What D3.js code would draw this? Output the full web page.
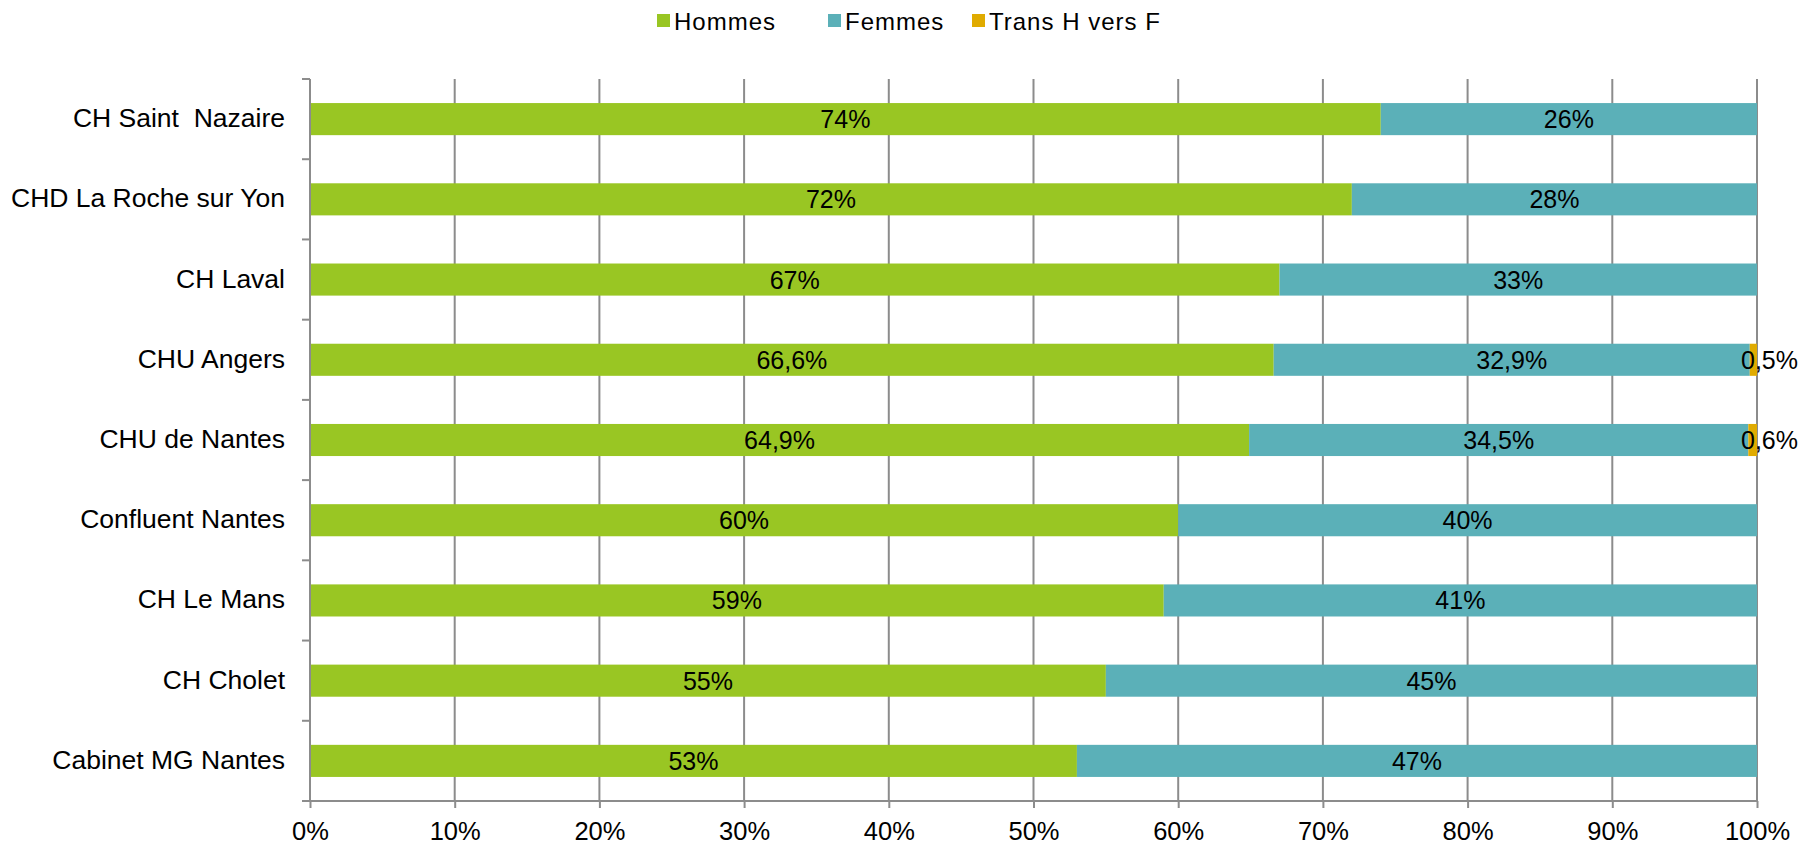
<!DOCTYPE html>
<html>
<head>
<meta charset="utf-8">
<style>
  body { margin: 0; background: #fff; }
  svg text { font-family: "Liberation Sans", Arial, sans-serif; fill: #000; }
</style>
<title>Répartition par sexe</title>
</head>
<body>
<script src="https://cdn.jsdelivr.net/npm/d3@7"></script>
<script>

// data ////////////////////////////////////////////////////////////////
var categories = ['CH Saint  Nazaire', 'CHD La Roche sur Yon', 'CH Laval', 'CHU Angers',
  'CHU de Nantes', 'Confluent Nantes', 'CH Le Mans', 'CH Cholet', 'Cabinet MG Nantes'];
var hommes = [74, 72, 67, 66.6, 64.9, 60, 59, 55, 53];
var femmes = [26, 28, 33, 32.9, 34.5, 40, 41, 45, 47];
var trans  = [0, 0, 0, 0.5, 0.6, 0, 0, 0, 0];
var seriesNames = ['Hommes', 'Femmes', 'Trans H vers F'];
var xTicks = [0, 10, 20, 30, 40, 50, 60, 70, 80, 90, 100];

var colors = ['#99c623', '#5bb0b8', '#e0ab00'];

var width = 1804, height = 845;
var margin = {top: 79, right: 47, bottom: 44, left: 310};

var svg = d3.select('body').append('svg')
  .attr('width', width)
  .attr('height', height);

var rows = categories.map((c, i) => ({cat: c, Hommes: hommes[i], Femmes: femmes[i], 'Trans H vers F': trans[i]}));
var stacked = d3.stack().keys(seriesNames)(rows);

var x = d3.scaleLinear()
  .domain([0, 100])
  .range([margin.left, width - margin.right]);

var y = d3.scaleBand()
  .domain(categories)
  .range([margin.top, height - margin.bottom])
  .padding(0);

var [x0, x1] = x.range();
var [y0, y1] = y.range();
var barH = y.step() * 0.4;
var axisColor = '#8c8c8c';

// grid
svg.append('g')
  .selectAll('line')
  .data(xTicks)
  .join('line')
    .attr('x1', d => x(d)).attr('x2', d => x(d))
    .attr('y1', y0).attr('y2', y1)
    .attr('stroke', axisColor)
    .attr('stroke-width', 2);

// bars
var layers = svg.append('g')
  .selectAll('g')
  .data(stacked)
  .join('g')
    .attr('fill', (d, i) => colors[i]);

layers.selectAll('rect')
  .data(d => d.filter(v => v[1] - v[0] > 0))
  .join('rect')
    .attr('x', d => x(d[0]))
    .attr('width', d => x(d[1]) - x(d[0]))
    .attr('y', d => y(d.data.cat) + (y.step() - barH) / 2)
    .attr('height', barH);

// value labels
var fmt = v => (Number.isInteger(v) ? String(v) : d3.format('.1f')(v).replace('.', ',')) + '%';

layers.selectAll('text')
  .data(d => d.filter(v => v[1] - v[0] > 0).map(v => ({v: v, key: d.key})))
  .join('text')
    .attr('x', d => (x(d.v[0]) + x(d.v[1])) / 2)
    .attr('y', d => y(d.v.data.cat) + y.step() / 2)
    .attr('dy', '0.36em')
    .attr('text-anchor', 'middle')
    .attr('font-size', 25)
    .style('fill', '#000')
    .text(d => fmt(d.v[1] - d.v[0]))
    .each(function(d) {
      // tiny segments: label pushed to the right edge
      var b = this.getBBox();
      if (b.width > x(d.v[1]) - x(d.v[0])) {
        d3.select(this).attr('x', width - 6).attr('text-anchor', 'end');
      }
    });

// bottom axis
var xAxis = svg.append('g')
  .attr('transform', `translate(0,${y1})`)
  .call(d3.axisBottom(x).tickValues(xTicks).tickSize(7).tickPadding(14).tickFormat(d => d + '%'));
xAxis.select('.domain').remove();
xAxis.append('line')
  .attr('x1', x0 - 8).attr('x2', x1)
  .attr('stroke', axisColor).attr('stroke-width', 2);
xAxis.selectAll('.tick line').attr('stroke', axisColor).attr('stroke-width', 2);
xAxis.selectAll('.tick text')
  .attr('font-size', 25.5)
  .attr('font-family', '"Liberation Sans", Arial, sans-serif')
  .style('fill', '#000');

// left axis
var yAxis = svg.append('g');
yAxis.append('line')
  .attr('x1', x0).attr('x2', x0)
  .attr('y1', y0).attr('y2', y1)
  .attr('stroke', axisColor).attr('stroke-width', 2);
yAxis.selectAll('.tk')
  .data(categories)
  .join('line')
    .attr('class', 'tk')
    .attr('x1', x0 - 8).attr('x2', x0)
    .attr('y1', d => y(d)).attr('y2', d => y(d))
    .attr('stroke', axisColor).attr('stroke-width', 2);
yAxis.selectAll('text')
  .data(categories)
  .join('text')
    .attr('x', x0 - 25)
    .attr('y', d => y(d) + y.step() / 2)
    .attr('dy', '0.3em')
    .attr('text-anchor', 'end')
    .attr('font-size', 26.5)
    .attr('xml:space', 'preserve')
    .text(d => d);

// legend
var legendX = [657, 828, 972];
var legend = svg.append('g')
  .selectAll('g')
  .data(seriesNames)
  .join('g')
    .attr('transform', (d, i) => `translate(${legendX[i]},0)`);
legend.append('rect')
  .attr('x', 0).attr('y', 14)
  .attr('width', 13).attr('height', 13)
  .attr('fill', (d, i) => colors[i]);
legend.append('text')
  .attr('x', 17).attr('y', 30)
  .attr('font-size', 24)
  .attr('letter-spacing', 1)
  .text(d => d);

</script>
</body>
</html>
